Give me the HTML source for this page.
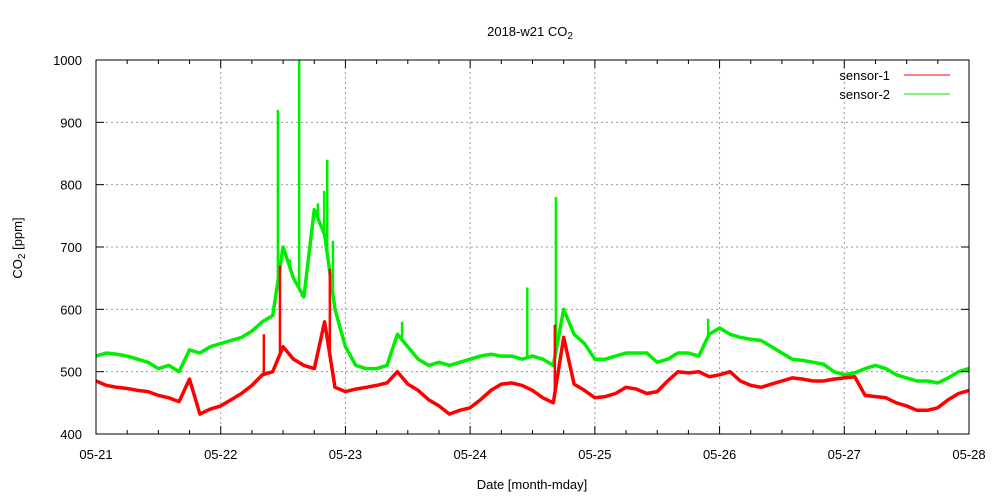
<!DOCTYPE html>
<html><head><meta charset="utf-8"><style>
body{margin:0;background:#fff}
svg{display:block;font-family:"Liberation Sans",sans-serif}
</style></head><body>
<svg id="chart" width="1000" height="500">
<text x="530" y="36" font-size="13" text-anchor="middle">2018-w21 CO<tspan font-size="10" dy="3">2</tspan></text>
<text transform="translate(22,248) rotate(-90)" font-size="13" text-anchor="middle">CO<tspan font-size="10" dy="3">2</tspan><tspan dy="-3"> [ppm]</tspan></text>
<text x="532" y="489" font-size="13" text-anchor="middle">Date [month-mday]</text>
<g id="grid"></g><g id="series"></g><g id="axes"></g>
<g>
<text x="890" y="80" font-size="13" text-anchor="end">sensor-1</text>
<line x1="904" y1="75" x2="950" y2="75" stroke="#f00"/>
<text x="890" y="99" font-size="13" text-anchor="end">sensor-2</text>
<line x1="904" y1="94" x2="950" y2="94" stroke="#0e0"/>
</g>
</svg>
<script>
const xTickLabels=["05-21","05-22","05-23","05-24","05-25","05-26","05-27","05-28"];
const yTicks=[400,500,600,700,800,900,1000];
// values every 2 hours from 05-21 00:00
const sensor1=[485,478,475,473,470,468,462,458,452,488,432,440,
445,455,465,478,495,500,540,520,510,505,580,475,
468,472,475,478,482,500,480,470,455,445,432,438,
442,455,470,480,482,478,470,458,450,555,480,470,
458,460,465,475,472,465,468,485,500,498,500,492,
495,500,485,478,475,480,485,490,488,485,485,488,
490,492,462,460,458,450,445,438,438,442,455,465,470];
const sensor2=[525,530,528,525,520,515,505,510,500,535,530,540,
545,550,555,565,580,590,700,650,620,760,720,600,
540,510,505,505,510,560,540,520,510,515,510,515,
520,525,528,525,525,520,525,520,510,600,560,545,
520,520,525,530,530,530,515,520,530,530,525,560,
570,560,555,552,550,540,530,520,518,515,512,500,
495,498,505,510,505,495,490,485,485,482,490,500,505];
// spikes: hour offset and peak value
const spike1Hours=[32.3,35.4,45,88.3];
const spike1Values=[560,670,665,575];
const spike2Hours=[35,36,37.3,39.1,39.6,42.7,43.9,44.5,45.6,58.9,83,88.5,117.8];
const spike2Values=[920,700,680,1000,620,770,790,840,710,580,635,780,585];
const stepHours=2;
const X0=96,X1=969,Y0=434,Y1=60,H=168;
const xs=h=>X0+(h/H)*(X1-X0);
const ys=v=>Y0-(v-400)/600*(Y0-Y1);
const NS="http://www.w3.org/2000/svg";
function mk(t,a,p){const e=document.createElementNS(NS,t);for(const k in a)e.setAttribute(k,a[k]);p.appendChild(e);return e;}
const grid=document.getElementById('grid'),axes=document.getElementById('axes'),ser=document.getElementById('series');
yTicks.forEach(v=>{
 if(v>400&&v<1000){const g=mk('line',{x1:X0,x2:X1,y1:ys(v),y2:ys(v),stroke:'#999','stroke-dasharray':'2,3'},grid);
 }
 const t=mk('text',{x:82,y:ys(v)+5,'font-size':13,'text-anchor':'end'},axes);t.textContent=v;
 
 mk('line',{x1:X0,x2:X0+8,y1:ys(v),y2:ys(v),stroke:'#000'},axes);
 mk('line',{x1:X1,x2:X1-8,y1:ys(v),y2:ys(v),stroke:'#000'},axes);
});
xTickLabels.forEach((l,i)=>{
 const x=xs(i*24);
 if(i>0&&i<7){const g=mk('line',{x1:x,x2:x,y1:Y0,y2:Y1,stroke:'#999','stroke-dasharray':'2,3'},grid);
 }
 const t=mk('text',{x:x,y:459,'font-size':13,'text-anchor':'middle'},axes);t.textContent=l;
 
 mk('line',{x1:x,x2:x,y1:Y0,y2:Y0-8,stroke:'#000'},axes);
 mk('line',{x1:x,x2:x,y1:Y1,y2:Y1+8,stroke:'#000'},axes);
});
for(let h=6;h<H;h+=6){if(h%24){const x=xs(h);
 mk('line',{x1:x,x2:x,y1:Y0,y2:Y0-4,stroke:'#000'},axes);mk('line',{x1:x,x2:x,y1:Y1,y2:Y1+4,stroke:'#000'},axes);}}
const fr=mk('rect',{x:X0,y:Y1,width:X1-X0,height:Y0-Y1,fill:'none',stroke:'#000'},axes);

function valAt(arr,h){const i=Math.min(Math.floor(h/stepHours),arr.length-2),f=h/stepHours-i;return arr[i]*(1-f)+arr[i+1]*f;}
function draw(arr,sh,sv,col,name){
 const d=arr.map((v,i)=>(i?'L':'M')+xs(i*stepHours).toFixed(1)+','+ys(v).toFixed(1)).join('');
 const p=mk('path',{d:d,fill:'none',stroke:col,'stroke-width':3.5,'stroke-linejoin':'round'},ser);
 
 sh.forEach((h,i)=>{const x=xs(h);
  const s=mk('line',{x1:x,x2:x,y1:ys(valAt(arr,h)),y2:ys(sv[i]),stroke:col,'stroke-width':2.5},ser);
  });
}
draw(sensor2,spike2Hours,spike2Values,'#0e0','sensor-2');
draw(sensor1,spike1Hours,spike1Values,'#f00','sensor-1');
</script>
</body></html>
